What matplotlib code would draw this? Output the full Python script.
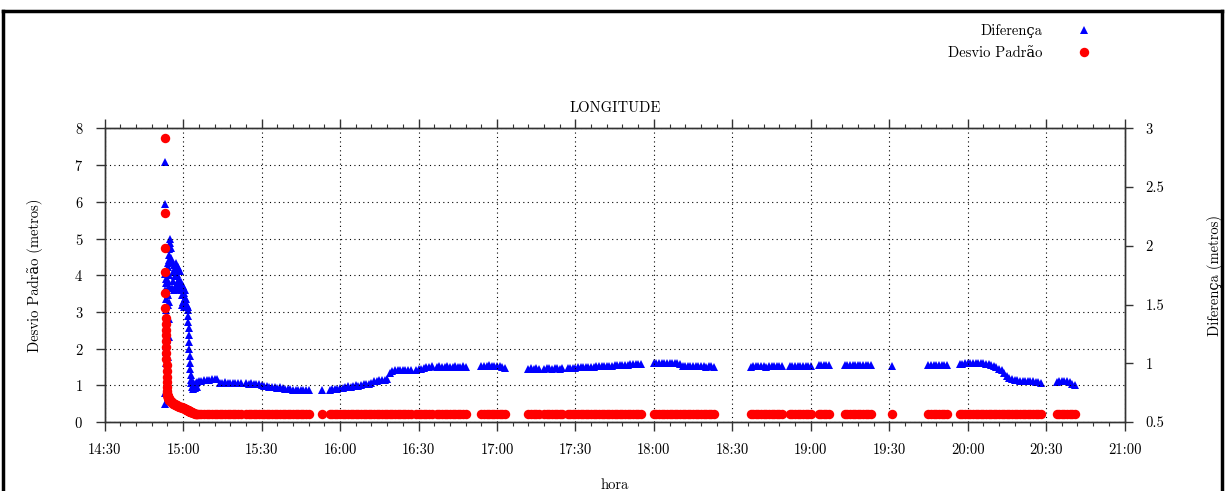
import numpy as np
import matplotlib
matplotlib.use('Agg')
import matplotlib.pyplot as plt
from matplotlib.lines import Line2D
from matplotlib.ticker import MultipleLocator

plt.rcParams['font.family'] = ['cmr10', 'DejaVu Serif']
plt.rcParams['axes.unicode_minus'] = False
plt.rcParams['axes.formatter.use_mathtext'] = True

# pico inicial (~14:53 a 15:05): minutos depois das 14:30, com as duas series
hora_pico = [
    22.95, 23.0, 23.05, 23.1, 23.15, 23.2, 23.25,
    23.30, 23.35, 23.40, 23.45, 23.50, 23.55, 23.60, 23.65, 23.70, 23.75,
    23.80, 23.85, 23.90, 23.95, 24.00, 24.05, 24.10, 24.15, 24.20, 24.25,
    24.30, 24.35, 24.40, 24.45, 24.50, 24.55, 24.60, 24.65, 24.70, 24.75,
    24.8, 25.0, 25.2, 25.4, 25.6, 25.8, 26.0, 26.2, 26.4, 26.6, 26.8, 27.0,
    27.2, 27.4, 27.6, 27.8, 28.0, 28.2, 28.4, 28.6, 28.8, 29.0, 29.2, 29.4,
    29.6, 29.8, 30.0, 30.2, 30.4, 30.6, 30.8, 31.0, 31.2, 31.4,
    31.6, 31.7, 31.8, 31.9, 32.0, 32.1, 32.2, 32.3, 32.4, 32.5, 32.6, 32.7,
    32.8, 32.9, 33.0,
    33.3, 33.6, 33.9, 34.2, 34.5, 34.8, 35.1, 35.4]
dp_pico = [
    7.75, 5.70, 4.73, 4.08, 3.52, 3.11, 2.83,
    2.68, 2.52, 2.36, 2.20, 2.04, 1.88, 1.72, 1.56, 1.40, 1.24,
    1.08, 0.95, 0.84, 0.78, 0.74, 0.72, 0.70, 0.69, 0.68, 0.67,
    0.66, 0.65, 0.64, 0.63, 0.62, 0.62, 0.61, 0.60, 0.60, 0.59,
    0.59, 0.57, 0.56, 0.55, 0.54, 0.52, 0.51, 0.50, 0.50, 0.49, 0.48, 0.47,
    0.46, 0.46, 0.45, 0.44, 0.43, 0.43, 0.42, 0.42, 0.41, 0.41, 0.40, 0.40,
    0.39, 0.39, 0.38, 0.37, 0.37, 0.36, 0.36, 0.35, 0.34, 0.33,
    0.33, 0.33, 0.32, 0.32, 0.31, 0.31, 0.30, 0.30, 0.29, 0.29, 0.28, 0.28,
    0.28, 0.27, 0.27,
    0.26, 0.25, 0.24, 0.24, 0.23, 0.23, 0.22, 0.22]
dif_pico = [
    2.71, 2.36, 0.65, 0.75, 1.76, 1.62, 1.72,
    1.00, 1.55, 1.05, 1.68, 1.10, 1.45, 1.15, 1.78, 1.20, 1.40,
    1.25, 1.60, 1.30, 1.35, 0.95, 1.50, 1.82, 0.90, 1.70, 1.58,
    1.85, 1.05, 1.75, 1.22, 1.88, 1.38, 1.92, 1.52, 1.97, 1.66,
    2.02, 2.06, 1.98, 1.90, 1.86, 1.64, 1.78, 1.70, 1.84, 1.62, 1.74, 1.80,
    1.66, 1.85, 1.68, 1.76, 1.63, 1.82, 1.72, 1.65, 1.79, 1.69, 1.62, 1.50,
    1.58, 1.66, 1.52, 1.60, 1.48, 1.56, 1.62, 1.50, 1.55, 1.49,
    1.50, 1.48, 1.45, 1.40, 1.35, 1.30, 1.24, 1.18, 1.12, 1.06, 1.00, 0.95,
    0.90, 0.86, 0.83,
    0.80, 0.84, 0.78, 0.82, 0.79, 0.83, 0.80, 0.84]

# trechos de registro depois do pico, uma amostra por minuto (inicio, fim exclusivo)
trechos = [(36, 53), (54, 79), (83, 84), (86, 118), (119, 126), (127, 139),
           (144, 154), (162, 167), (168, 176), (177, 206), (210, 234),
           (247, 260), (262, 271), (273, 278), (283, 294), (301, 302),
           (315, 323), (327, 359), (364, 372)]

dp_trechos = [
    # 36-52
    0.23, 0.22, 0.22, 0.22, 0.22, 0.21, 0.22, 0.22, 0.22, 0.22, 0.21, 0.22,
    0.22, 0.22, 0.22, 0.22, 0.21,
    # 54-78
    0.22, 0.22, 0.21, 0.22, 0.22, 0.22, 0.21, 0.22, 0.22, 0.22,
    0.21, 0.22, 0.22, 0.22, 0.21, 0.22, 0.22, 0.22, 0.21, 0.22,
    0.22, 0.21, 0.22, 0.22, 0.22,
    # 83
    0.22,
    # 86-117
    0.22, 0.22, 0.21, 0.22, 0.22, 0.22, 0.22, 0.21, 0.22, 0.22,
    0.22, 0.21, 0.22, 0.22, 0.22, 0.22, 0.22, 0.21, 0.22, 0.22,
    0.22, 0.22, 0.22, 0.21, 0.22, 0.22, 0.22, 0.21, 0.22, 0.22,
    0.22, 0.22,
    # 119-125
    0.22, 0.22, 0.21, 0.22, 0.22, 0.22, 0.22,
    # 127-138
    0.22, 0.22, 0.21, 0.22, 0.22, 0.22, 0.22, 0.21, 0.22, 0.22, 0.22, 0.22,
    # 144-153
    0.22, 0.22, 0.22, 0.21, 0.22, 0.22, 0.22, 0.22, 0.21, 0.22,
    # 162-166
    0.22, 0.22, 0.21, 0.22, 0.22,
    # 168-175
    0.22, 0.22, 0.22, 0.21, 0.22, 0.22, 0.22, 0.22,
    # 177-205
    0.22, 0.22, 0.21, 0.22, 0.22, 0.22, 0.22, 0.22, 0.21, 0.22,
    0.22, 0.22, 0.21, 0.22, 0.22, 0.22, 0.22, 0.22, 0.22, 0.21,
    0.22, 0.22, 0.22, 0.21, 0.22, 0.22, 0.22, 0.22, 0.22,
    # 210-233
    0.22, 0.22, 0.21, 0.22, 0.22, 0.22, 0.22, 0.22, 0.21, 0.22,
    0.22, 0.21, 0.22, 0.22, 0.22, 0.22, 0.22, 0.22, 0.21, 0.22,
    0.22, 0.22, 0.21, 0.22,
    # 247-259
    0.22, 0.22, 0.21, 0.22, 0.22, 0.22, 0.22, 0.22, 0.21, 0.22, 0.22, 0.22, 0.22,
    # 262-270
    0.22, 0.22, 0.22, 0.21, 0.22, 0.22, 0.22, 0.22, 0.22,
    # 273-277
    0.22, 0.22, 0.21, 0.22, 0.22,
    # 283-293
    0.22, 0.22, 0.22, 0.21, 0.22, 0.22, 0.22, 0.22, 0.21, 0.22, 0.22,
    # 301
    0.22,
    # 315-322
    0.22, 0.22, 0.21, 0.22, 0.22, 0.22, 0.22, 0.22,
    # 327-358
    0.22, 0.22, 0.21, 0.22, 0.22, 0.22, 0.22, 0.21, 0.22, 0.22,
    0.22, 0.21, 0.22, 0.22, 0.22, 0.22, 0.22, 0.21, 0.22, 0.22,
    0.22, 0.22, 0.22, 0.21, 0.22, 0.22, 0.22, 0.21, 0.22, 0.22,
    0.22, 0.22,
    # 364-371
    0.22, 0.22, 0.22, 0.21, 0.22, 0.22, 0.22, 0.22,
]

dif_trechos = [
    # 36-52
    0.85, 0.85, 0.855, 0.86, 0.86, 0.865, 0.87, 0.87,
    0.835, 0.835, 0.84, 0.835, 0.83, 0.835, 0.83, 0.83, 0.83,
    # 54-78
    0.83, 0.825, 0.83, 0.825, 0.82, 0.82, 0.815, 0.81, 0.805, 0.80,
    0.80, 0.795, 0.79, 0.795, 0.79, 0.785, 0.78, 0.78, 0.775, 0.775,
    0.77, 0.77, 0.775, 0.77, 0.77,
    # 83
    0.775,
    # 86-117
    0.775, 0.78, 0.785, 0.78, 0.79, 0.79, 0.80, 0.805, 0.80, 0.81,
    0.815, 0.81, 0.815, 0.82, 0.82, 0.825, 0.83, 0.845, 0.85, 0.855,
    0.86, 0.86, 0.87, 0.92, 0.935, 0.94, 0.94, 0.945, 0.94, 0.945,
    0.94, 0.945,
    # 119-125
    0.945, 0.95, 0.955, 0.96, 0.965, 0.97, 0.975,
    # 127-138
    0.97, 0.975, 0.97, 0.97, 0.975, 0.97, 0.97, 0.975, 0.97, 0.97, 0.975, 0.97,
    # 144-153
    0.975, 0.98, 0.98, 0.985, 0.98, 0.98, 0.975, 0.975, 0.97, 0.96,
    # 162-166
    0.955, 0.96, 0.955, 0.96, 0.955,
    # 168-175
    0.955, 0.96, 0.96, 0.955, 0.96, 0.96, 0.955, 0.96,
    # 177-205
    0.96, 0.96, 0.962, 0.963, 0.965, 0.965, 0.967, 0.968, 0.97, 0.97,
    0.972, 0.973, 0.975, 0.975, 0.977, 0.978, 0.98, 0.98, 0.982, 0.983,
    0.985, 0.985, 0.987, 0.988, 0.99, 0.99, 0.992, 0.994, 0.995,
    # 210-233
    1.0, 1.003, 1.005, 1.005, 1.005, 1.003, 1.005, 1.005, 1.003, 1.0,
    0.995, 0.98, 0.975, 0.975, 0.978, 0.975, 0.975, 0.978, 0.975, 0.975,
    0.972, 0.975, 0.975, 0.972,
    # 247-259
    0.972, 0.978, 0.975, 0.975, 0.978, 0.975, 0.972, 0.975, 0.978, 0.975,
    0.975, 0.978, 0.975,
    # 262-270
    0.975, 0.978, 0.975, 0.975, 0.978, 0.98, 0.978, 0.98, 0.978,
    # 273-277
    0.985, 0.985, 0.988, 0.985, 0.985,
    # 283-293
    0.982, 0.985, 0.985, 0.985, 0.982, 0.985, 0.985, 0.988, 0.985, 0.985, 0.982,
    # 301
    0.975,
    # 315-322
    0.982, 0.985, 0.985, 0.982, 0.985, 0.985, 0.985, 0.982,
    # 327-358
    0.99, 0.995, 1.0, 1.003, 1.005, 1.003, 1.0, 1.003, 1.0, 1.0,
    0.995, 0.99, 0.982, 0.975, 0.965, 0.952, 0.94, 0.92, 0.895, 0.878,
    0.868, 0.86, 0.855, 0.852, 0.85, 0.848, 0.845, 0.845, 0.848, 0.842,
    0.838, 0.834,
    # 364-371
    0.844, 0.848, 0.85, 0.845, 0.845, 0.838, 0.825, 0.815,
]

rotulos_hora = ['14:30', '15:00', '15:30', '16:00', '16:30', '17:00', '17:30',
                '18:00', '18:30', '19:00', '19:30', '20:00', '20:30', '21:00']
rotulos_dif = ['0.5', '1', '1.5', '2', '2.5', '3']

hora = list(hora_pico)
for ini, fim in trechos:
    hora += list(range(ini, fim))
hora = np.array(hora, dtype=float)
desvio_padrao = np.array(dp_pico + dp_trechos)
diferenca = np.array(dif_pico + dif_trechos)

fig = plt.figure(figsize=(12.25, 4.91), dpi=100)
ax = fig.add_axes([0.0855, 0.1405, 0.8325, 0.598])
ax2 = ax.twinx()

cor_eixo = '#333333'
fs = 10.5
ax2.plot(hora, diferenca, linestyle='none', marker='^', markersize=6.2,
         color='#0000ff', markeredgewidth=0, label='Diferença')
ax.plot(hora, desvio_padrao, linestyle='none', marker='o', markersize=6.8,
        color='#ff0000', markeredgewidth=0, label='Desvio Padrão')
ax.set_zorder(ax2.get_zorder() + 1)
ax.patch.set_visible(False)

ax.set_xlim(0, 30 * (len(rotulos_hora) - 1))
ax.set_xticks(np.arange(len(rotulos_hora)) * 30)
ax.set_xticklabels(rotulos_hora)
ax.xaxis.set_minor_locator(MultipleLocator(6))
ax.set_ylim(0, 8)
ax.set_yticks(range(0, 9))
ax2.set_ylim(0.5, 3)
ax2.set_yticks([float(r) for r in rotulos_dif])
ax2.set_yticklabels(rotulos_dif)

ax.tick_params(axis='x', which='major', direction='out', length=6.5, width=1,
               top=True, bottom=True, color=cor_eixo, labelsize=fs, pad=9)
ax.tick_params(axis='x', which='minor', direction='out', length=3, width=0.8,
               top=True, bottom=True, color=cor_eixo)
ax.tick_params(axis='y', direction='out', length=6.5, width=1, color=cor_eixo,
               labelsize=fs, pad=9)
ax2.tick_params(axis='y', direction='out', length=6, width=1, color=cor_eixo,
                labelsize=fs, pad=9)

ax.grid(True, which='major', linestyle=(0, (1, 3)), color='black', linewidth=0.8)
for a in (ax, ax2):
    for s in a.spines.values():
        s.set_color(cor_eixo)
        s.set_linewidth(1)

ax.set_ylabel('Desvio Padrão (metros)', fontsize=fs)
ax.yaxis.set_label_coords(-0.0605, 0.5)
ax2.set_ylabel('Diferença (metros)', fontsize=fs)
ax2.yaxis.set_label_coords(1.081, 0.5)
ax.set_xlabel('hora', fontsize=fs)
ax.xaxis.set_label_coords(0.5, -0.19)

fig.text(0.5018, 1 - 108 / 491, 'LONGITUDE', ha='center', va='center', fontsize=fs)

h1, l1 = ax2.get_legend_handles_labels()
h2, l2 = ax.get_legend_handles_labels()
fig.legend(h1 + h2, l1 + l2, loc='upper right', bbox_to_anchor=(1091 / 1225, 1 - 24 / 491),
           markerfirst=False, frameon=False, numpoints=1, fontsize=fs,
           handlelength=1.0, handletextpad=2.3, labelspacing=0.6,
           borderpad=0, borderaxespad=0)

# moldura da figura
for xs, ys in [([0.0024, 0.9976], [0.9786, 0.9786]),
               ([0.0024, 0.0024], [0.0, 0.9786]),
               ([0.9976, 0.9976], [0.0, 0.9786])]:
    fig.add_artist(Line2D(xs, ys, transform=fig.transFigure, color='black', linewidth=2.5))

fig.savefig('out.png', dpi=100)
